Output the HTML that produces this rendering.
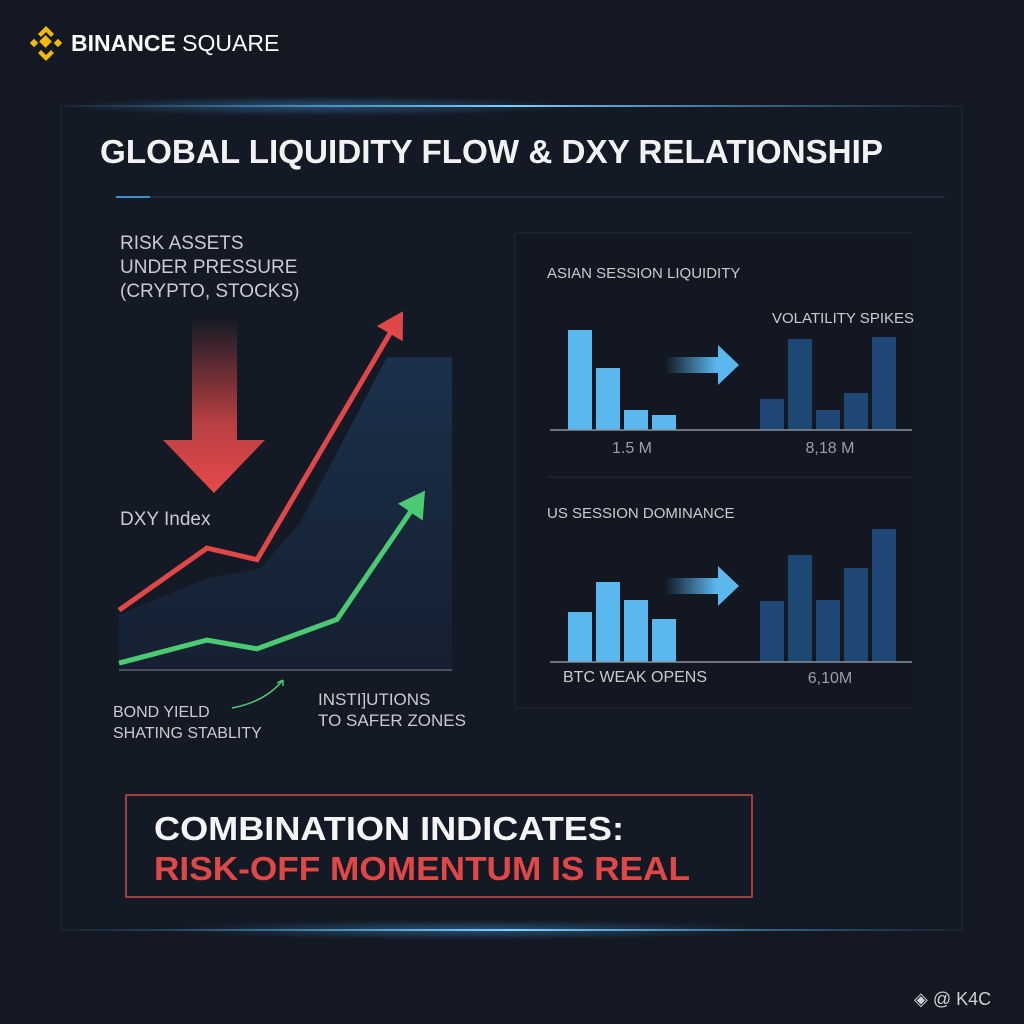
<!DOCTYPE html>
<html><head><meta charset="utf-8"><style>
html,body{margin:0;padding:0;background:#131822;}
svg{display:block;font-family:"Liberation Sans",sans-serif;}
</style></head><body>
<svg width="1024" height="1024" viewBox="0 0 1024 1024">
<defs>
<linearGradient id="glowT" x1="0" x2="1"><stop offset="0" stop-color="#3aa0e0" stop-opacity="0"/><stop offset="0.5" stop-color="#7fd0ff"/><stop offset="1" stop-color="#3aa0e0" stop-opacity="0"/></linearGradient>
<radialGradient id="halo"><stop offset="0" stop-color="#4ab0ff" stop-opacity="0.35"/><stop offset="1" stop-color="#4ab0ff" stop-opacity="0"/></radialGradient>
<linearGradient id="downG" x1="0" y1="0" x2="0" y2="1"><stop offset="0" stop-color="#e04848" stop-opacity="0"/><stop offset="0.6" stop-color="#e04848" stop-opacity="0.8"/><stop offset="1" stop-color="#e84a4a"/></linearGradient>
<linearGradient id="areaG" x1="0" y1="0" x2="0" y2="1"><stop offset="0" stop-color="#1c3450" stop-opacity="0.9"/><stop offset="1" stop-color="#17243a" stop-opacity="0.6"/></linearGradient>
<linearGradient id="arrG" x1="0" x2="1"><stop offset="0" stop-color="#5bb8ee" stop-opacity="0"/><stop offset="0.7" stop-color="#5bb8ee"/><stop offset="1" stop-color="#5bb8ee"/></linearGradient>
</defs>
<rect width="1024" height="1024" fill="#131822"/>
<g fill="#f0b90b">
<rect x="41" y="37" width="9" height="9" transform="rotate(45 45.5 41.5)"/>
<rect x="31" y="40" width="6" height="6" transform="rotate(45 34 43)"/>
<rect x="55" y="40" width="6" height="6" transform="rotate(45 58 43)"/>
<path d="M46 26 L54 34 L51 37 L46 32 L41 37 L38 34Z"/>
<path d="M46 61 L54 53 L51 50 L46 55 L41 50 L38 53Z"/>
</g>
<text x="71" y="51" font-size="23" font-weight="bold" fill="#fff">BINANCE <tspan font-weight="normal">SQUARE</tspan></text>
<rect x="61" y="106" width="901" height="824" fill="#141a25" stroke="#1f2a38"/>
<ellipse cx="320" cy="106" rx="260" ry="10" fill="url(#halo)"/>
<rect x="61" y="105" width="901" height="2" fill="url(#glowT)"/>
<ellipse cx="470" cy="930" rx="300" ry="10" fill="url(#halo)"/>
<rect x="61" y="929" width="901" height="2" fill="url(#glowT)"/>
<text x="100" y="163" font-size="33" font-weight="bold" fill="#f2f2f2" textLength="783" lengthAdjust="spacingAndGlyphs">GLOBAL LIQUIDITY FLOW &amp; DXY RELATIONSHIP</text>
<line x1="116" y1="197" x2="945" y2="197" stroke="#253040" stroke-width="1.5"/>
<line x1="116" y1="197" x2="150" y2="197" stroke="#3d8fd0" stroke-width="2"/>
<g fill="#c8ccd2" font-size="19">
<text x="120" y="249">RISK ASSETS</text><text x="120" y="273">UNDER PRESSURE</text><text x="120" y="297">(CRYPTO, STOCKS)</text></g>
<path d="M192 318 H237 V440 H265 L214 493 L163 440 H192Z" fill="url(#downG)"/>
<text x="120" y="525" font-size="19" fill="#c8ccd2">DXY Index</text>
<g id="leftChart"></g>
<line x1="119" y1="670" x2="452" y2="670" stroke="#5a6270" stroke-width="1.5"/>
<path d="M232 708 Q265 702 283 680" fill="none" stroke="#4cca72" stroke-width="1.5"/>
<path d="M283 680 l-6 3 M283 680 l0 6" stroke="#4cca72" stroke-width="1.5"/>
<g fill="#c8ccd2" font-size="16"><text x="113" y="717">BOND YIELD</text><text x="113" y="738">SHATING STABLITY</text></g>
<g fill="#c8ccd2" font-size="17"><text x="318" y="705">INSTI]UTIONS</text><text x="318" y="726">TO SAFER ZONES</text></g>
<rect x="515" y="233" width="420" height="475" fill="#121722" stroke="#1f2936"/>
<rect x="912" y="232" width="30" height="478" fill="#141a25"/>
<text x="547" y="278" font-size="15" fill="#c8ccd2">ASIAN SESSION LIQUIDITY</text>
<text x="772" y="323" font-size="15" fill="#c8ccd2">VOLATILITY SPIKES</text>
<line x1="548" y1="477" x2="912" y2="477" stroke="#232c3a"/>
<text x="547" y="518" font-size="15" fill="#c8ccd2">US SESSION DOMINANCE</text>
<g id="bars"></g>
<line x1="550" y1="430" x2="912" y2="430" stroke="#8a909a" stroke-width="1.5"/>
<line x1="550" y1="662" x2="912" y2="662" stroke="#8a909a" stroke-width="1.5"/>
<path d="M665 357 H718 V345 L739 365 L718 385 V373 H665Z" fill="url(#arrG)"/>
<path d="M665 578 H718 V566 L739 586 L718 606 V594 H665Z" fill="url(#arrG)"/>
<text x="632" y="453" font-size="16" fill="#9aa0a8" text-anchor="middle">1.5 M</text>
<text x="830" y="453" font-size="16" fill="#9aa0a8" text-anchor="middle">8,18 M</text>
<text x="563" y="682" font-size="16" fill="#c8ccd2">BTC WEAK OPENS</text>
<text x="830" y="683" font-size="16" fill="#9aa0a8" text-anchor="middle">6,10M</text>
<rect x="126" y="795" width="626" height="102" fill="none" stroke="#d04848" stroke-width="1.5"/>
<text x="154" y="840" font-size="33" font-weight="bold" fill="#f5f5f5" textLength="470" lengthAdjust="spacingAndGlyphs">COMBINATION INDICATES:</text>
<text x="154" y="880" font-size="33" font-weight="bold" fill="#e04848" textLength="536" lengthAdjust="spacingAndGlyphs">RISK-OFF MOMENTUM IS REAL</text>
<g><text x="914" y="1005" font-size="18" fill="#d0d0d0">◈ @ K4C</text></g>
</svg>
<script>
const dxyX = [119, 207, 257, 330, 403];
const dxyVals = [13, 26.5, 24, 51, 78];
const bondX = [119, 207, 257, 337, 425];
const bondVals = [1.5, 6.5, 4.6, 11, 39];
const liqX = [119, 207, 260, 300, 387, 452];
const liqVals = [12, 20, 22, 32, 68, 68];
const asianVals = [100, 62, 20, 15];
const volVals = [31, 91, 20, 37, 93];
const usLightVals = [50, 80, 62, 43];
const usDarkVals = [61, 107, 62, 94, 133];
const NS='http://www.w3.org/2000/svg';
const yL = v => 670 - v*4.6;
function mk(t,a,p){const e=document.createElementNS(NS,t);for(const k in a)e.setAttribute(k,a[k]);p.appendChild(e);return e;}
const lc=document.getElementById('leftChart');
let ap='M'+liqX.map((x,i)=>x+' '+yL(liqVals[i])).join(' L')+' L452 670 L119 670Z';
const area=mk('path',{d:ap,fill:'url(#areaG)'},lc);


function line(xs,vals,color,name){
  const pts=vals.map((v,i)=>[xs[i],yL(v)]);
  const n=pts.length,[x1,y1]=pts[n-2],[x2,y2]=pts[n-1];
  const dx=x2-x1,dy=y2-y1,L=Math.hypot(dx,dy),ux=dx/L,uy=dy/L;
  const bx=x2-ux*26,by=y2-uy*26;
  const d='M'+pts.slice(0,n-1).map(p=>p.join(' ')).join(' L')+' L'+(x2-ux*20)+' '+(y2-uy*20);
  const p=mk('path',{d:d,fill:'none',stroke:color,'stroke-width':5,'stroke-linejoin':'miter'},lc);
  
  
  const h=mk('polygon',{points:`${x2},${y2} ${bx-uy*15},${by+ux*15} ${bx+uy*15},${by-ux*15}`,fill:color},lc);
  
  
}
line(dxyX,dxyVals,'#e04848','dxy');
line(bondX,bondVals,'#4cca72','bond');
const bg=document.getElementById('bars');
function bars(vals,x0,base,color,name){
  vals.forEach((v,i)=>{
    const r=mk('rect',{x:x0+i*28,y:base-v,width:24,height:v,fill:color},bg);
    
    
  });
}
bars(asianVals,568,430,'#5bb8ee','asian');
bars(volVals,760,430,'#1f4775','volatility');
bars(usLightVals,568,662,'#5bb8ee','us-light');
bars(usDarkVals,760,662,'#1f4775','us-dark');
</script>
</body></html>
